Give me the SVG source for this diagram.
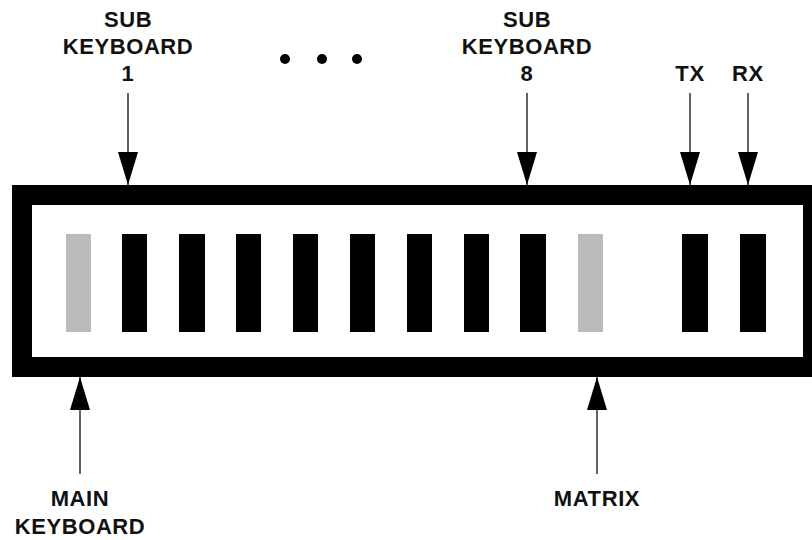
<svg xmlns="http://www.w3.org/2000/svg" width="812" height="540" viewBox="0 0 812 540">
<defs>
<style>
.lbl{font-family:"Liberation Sans",Arial,sans-serif;font-weight:bold;font-size:22px;fill:#111;text-anchor:middle;letter-spacing:0.6px}
.bar{fill:#000}
.gray{fill:#bbbbbb}
.conn{stroke:#222;stroke-width:1.4;fill:none}
</style>
<marker id="ah" markerUnits="userSpaceOnUse" markerWidth="33" markerHeight="20" refX="33" refY="10" orient="auto" viewBox="0 0 33 20">
<path d="M0,0 L33,10 L0,20 Z" fill="#000"/>
</marker>
</defs>
<rect width="812" height="540" fill="#fff"/>
<g id="frame">
<rect x="22" y="195" width="791" height="172" fill="#fff" stroke="#000" stroke-width="20"/>
</g>
<g id="slots">
<rect class="gray" x="66" y="234" width="25" height="98"/>
<rect class="bar" x="122" y="234" width="25" height="98"/>
<rect class="bar" x="179" y="234" width="26" height="98"/>
<rect class="bar" x="236" y="234" width="25" height="98"/>
<rect class="bar" x="293" y="234" width="25" height="98"/>
<rect class="bar" x="350" y="234" width="25" height="98"/>
<rect class="bar" x="407" y="234" width="25" height="98"/>
<rect class="bar" x="464" y="234" width="25" height="98"/>
<rect class="bar" x="520" y="234" width="26" height="98"/>
<rect class="gray" x="578" y="234" width="25" height="98"/>
<rect class="bar" x="682" y="234" width="26" height="98"/>
<rect class="bar" x="740" y="234" width="26" height="98"/>
</g>
<g id="dots" fill="#000">
<circle cx="285" cy="59" r="5"/>
<circle cx="322" cy="59" r="5"/>
<circle cx="357" cy="59" r="5"/>
</g>
<g id="connectors">
<line class="conn" x1="128" y1="93" x2="128" y2="185" marker-end="url(#ah)"/>
<line class="conn" x1="527" y1="93" x2="527" y2="185" marker-end="url(#ah)"/>
<line class="conn" x1="690" y1="93" x2="690" y2="185" marker-end="url(#ah)"/>
<line class="conn" x1="748" y1="93" x2="748" y2="185" marker-end="url(#ah)"/>
<line class="conn" x1="80" y1="474" x2="80" y2="377" marker-end="url(#ah)"/>
<line class="conn" x1="597" y1="474" x2="597" y2="377" marker-end="url(#ah)"/>
</g>
<g id="sub1">
<text class="lbl" x="128" y="27">SUB</text>
<text class="lbl" x="128" y="54">KEYBOARD</text>
<text class="lbl" x="128" y="81">1</text>
</g>
<g id="sub8">
<text class="lbl" x="527" y="27">SUB</text>
<text class="lbl" x="527" y="54">KEYBOARD</text>
<text class="lbl" x="527" y="81">8</text>
</g>
<g id="tx"><text class="lbl" x="690" y="81">TX</text></g>
<g id="rx"><text class="lbl" x="748" y="81">RX</text></g>
<g id="main"><text class="lbl" x="80" y="506">MAIN</text>
<text class="lbl" x="80" y="534">KEYBOARD</text></g>
<g id="matrix"><text class="lbl" x="597" y="506">MATRIX</text></g>
</svg>
